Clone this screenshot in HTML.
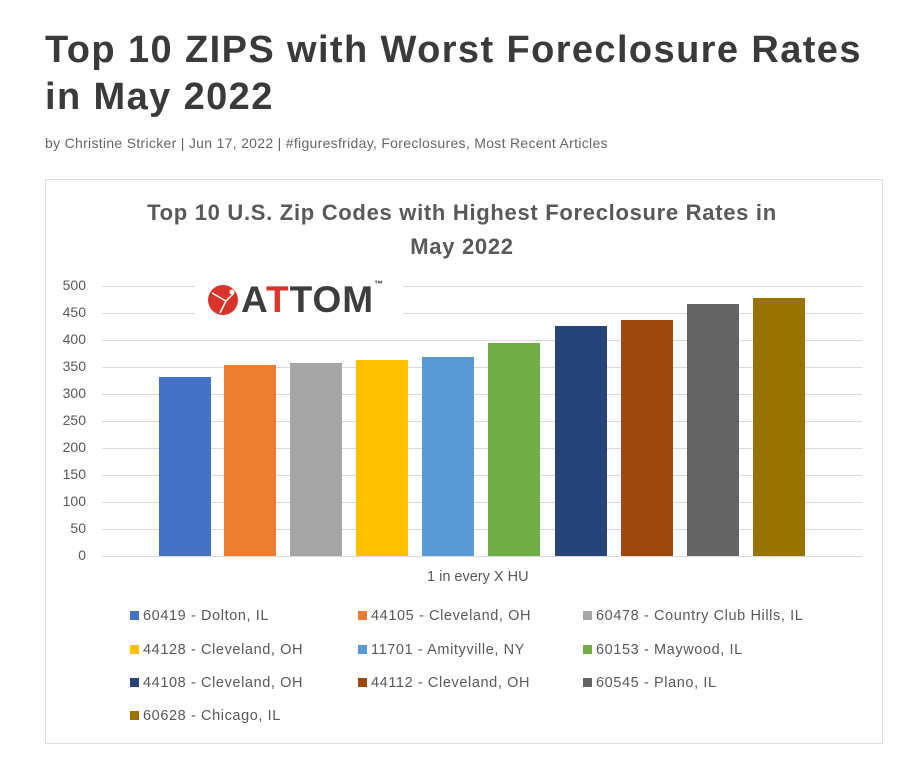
<!DOCTYPE html>
<html><head><meta charset="utf-8"><style>
*{margin:0;padding:0;box-sizing:border-box}
body{width:908px;height:768px;background:#fff;position:relative;overflow:hidden;font-family:"Liberation Sans",sans-serif}
.a{position:absolute;white-space:nowrap}
h1{position:absolute;left:45px;top:27px;font-size:38px;line-height:47px;font-weight:bold;color:#3a3a3a;letter-spacing:1.4px}
.by{left:45px;top:135px;font-size:14px;color:#666;letter-spacing:0.3px}
.box{position:absolute;left:45px;top:179px;width:838px;height:565px;border:1px solid #ddd}
.ct{left:0;width:908px;text-align:center;font-size:22px;font-weight:bold;color:#595959;letter-spacing:0.7px}
.g{position:absolute;left:102px;width:760px;height:1px;background:#d9d9d9}
.yl{position:absolute;width:40px;left:46px;text-align:right;font-size:14px;color:#595959}
.bar{position:absolute;width:52px;bottom:212px}
.lg{position:absolute;font-size:14.5px;color:#595959;letter-spacing:0.6px}
.lg i{display:inline-block;width:9px;height:9px;margin-right:4px;vertical-align:0}
</style></head><body>
<h1>Top 10 ZIPS with Worst Foreclosure Rates<br>in May 2022</h1>
<div class="a by">by <span style="color:#666">Christine Stricker</span> | Jun 17, 2022 | #figuresfriday, Foreclosures, Most Recent Articles</div>
<div class="box"></div>
<div class="a ct" style="top:200px;left:8px">Top 10 U.S. Zip Codes with Highest Foreclosure Rates in</div>
<div class="a ct" style="top:234px;left:8px">May 2022</div>

<div class="g" style="top:286px"></div><div class="g" style="top:313px"></div><div class="g" style="top:340px"></div><div class="g" style="top:367px"></div><div class="g" style="top:394px"></div><div class="g" style="top:421px"></div><div class="g" style="top:448px"></div><div class="g" style="top:475px"></div><div class="g" style="top:502px"></div><div class="g" style="top:529px"></div><div class="g" style="top:556px"></div>
<div class="yl" style="top:277px">500</div><div class="yl" style="top:304px">450</div><div class="yl" style="top:331px">400</div><div class="yl" style="top:358px">350</div><div class="yl" style="top:385px">300</div><div class="yl" style="top:412px">250</div><div class="yl" style="top:439px">200</div><div class="yl" style="top:466px">150</div><div class="yl" style="top:493px">100</div><div class="yl" style="top:520px">50</div><div class="yl" style="top:547px">0</div>

<div style="position:absolute;left:195px;top:280px;width:208px;height:42px;background:#fff"></div>
<svg style="position:absolute;left:206px;top:283px" width="34" height="34"><circle cx="17" cy="17" r="15" fill="#d9342b"/><path d="M6 10 L20 18 L14 30 M20 18 L28 10" stroke="#fff" stroke-width="1.5" fill="none"/><circle cx="26" cy="9" r="2.5" fill="#fff"/></svg>
<div class="a" style="left:241px;top:279px;font-size:37px;font-weight:bold;color:#3d3d3d;letter-spacing:1px">A<span style="color:#d9342b">T</span>TOM<span style="font-size:9px;vertical-align:top">™</span></div>

<div class="bar" style="left:159px;height:179px;background:#4472c4"></div>
<div class="bar" style="left:224px;height:191px;background:#ed7d31"></div>
<div class="bar" style="left:290px;height:193px;background:#a5a5a5"></div>
<div class="bar" style="left:356px;height:196px;background:#ffc000"></div>
<div class="bar" style="left:422px;height:199px;background:#5b9bd5"></div>
<div class="bar" style="left:488px;height:213px;background:#70ad47"></div>
<div class="bar" style="left:555px;height:230px;background:#264478"></div>
<div class="bar" style="left:621px;height:236px;background:#9e480e"></div>
<div class="bar" style="left:687px;height:252px;background:#636363"></div>
<div class="bar" style="left:753px;height:258px;background:#997300"></div>

<div class="a" style="left:427px;top:569px;font-size:14.5px;color:#595959">1 in every X HU</div>

<div class="lg" style="left:130px;top:608px"><i style="background:#4472c4"></i>60419 - Dolton, IL</div>
<div class="lg" style="left:358px;top:608px"><i style="background:#ed7d31"></i>44105 - Cleveland, OH</div>
<div class="lg" style="left:583px;top:608px"><i style="background:#a5a5a5"></i>60478 - Country Club Hills, IL</div>
<div class="lg" style="left:130px;top:642px"><i style="background:#ffc000"></i>44128 - Cleveland, OH</div>
<div class="lg" style="left:358px;top:642px"><i style="background:#5b9bd5"></i>11701 - Amityville, NY</div>
<div class="lg" style="left:583px;top:642px"><i style="background:#70ad47"></i>60153 - Maywood, IL</div>
<div class="lg" style="left:130px;top:675px"><i style="background:#264478"></i>44108 - Cleveland, OH</div>
<div class="lg" style="left:358px;top:675px"><i style="background:#9e480e"></i>44112 - Cleveland, OH</div>
<div class="lg" style="left:583px;top:675px"><i style="background:#636363"></i>60545 - Plano, IL</div>
<div class="lg" style="left:130px;top:708px"><i style="background:#997300"></i>60628 - Chicago, IL</div>
</body></html>
